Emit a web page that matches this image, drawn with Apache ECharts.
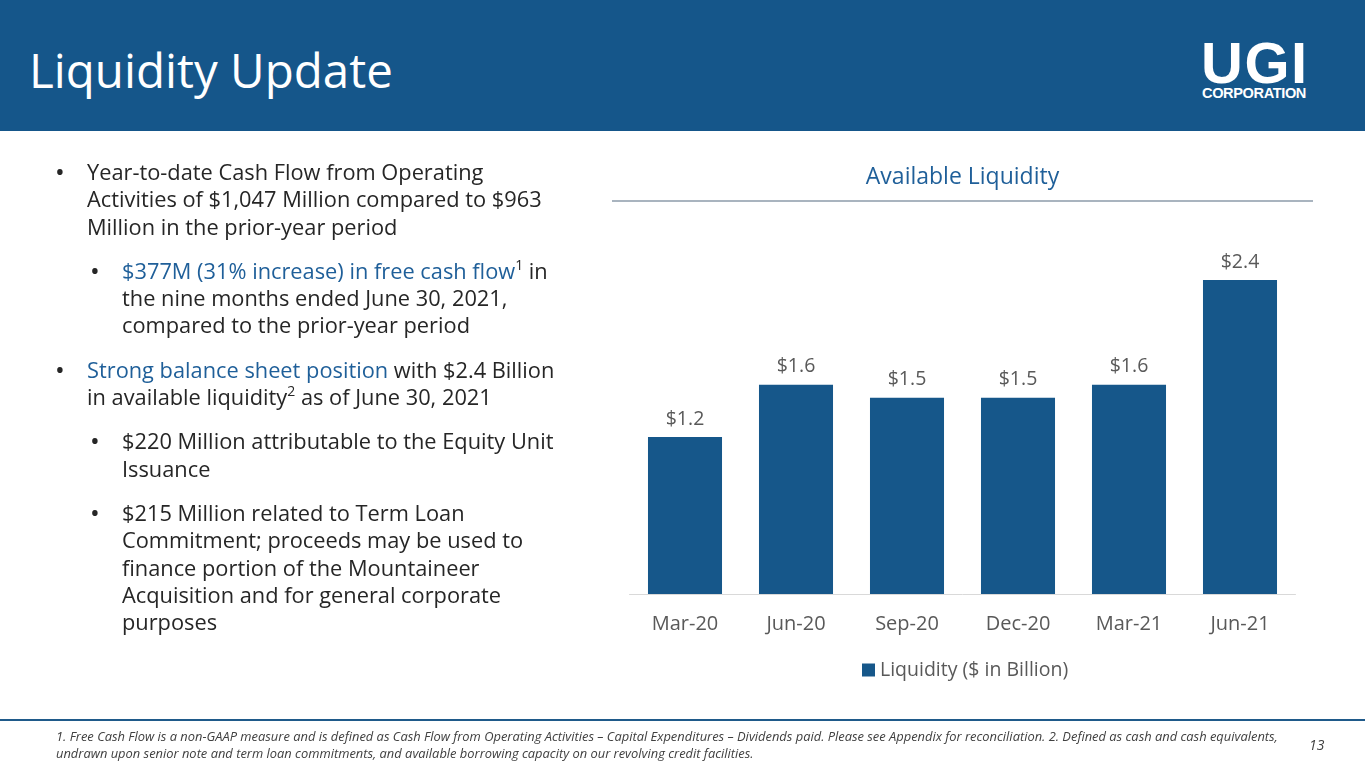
<!DOCTYPE html>
<html>
<head>
<meta charset="utf-8">
<script src="https://cdn.jsdelivr.net/npm/echarts@6/dist/echarts.min.js"></script>
<style>
  html, body { margin: 0; padding: 0; }
  body { width: 1365px; height: 768px; position: relative; overflow: hidden; background: #fff;
         font-family: "Open Sans", "Noto Sans", sans-serif; }
  #chart { position: absolute; left: 0; top: 0; width: 1365px; height: 768px; }
  .abs { position: absolute; }
  #header { left: 0; top: 0; width: 1365px; height: 131px; background: #15568a; }
  #pageTitle { left: 29px; top: 40px; color: #fff; font-size: 47.5px; line-height: 60px; }
  #logo1 { left: 1201px; top: 31px; color: #fff; font-family: "Liberation Sans", sans-serif; font-weight: bold;
           font-size: 58px; line-height: 64px; letter-spacing: 1.5px; }
  #logo2 { left: 1202px; top: 85px; color: #fff; font-family: "Liberation Sans", sans-serif; font-weight: bold;
           font-size: 14.6px; line-height: 16px; letter-spacing: -0.4px; }
  #text { left: 56px; top: 158px; width: 560px; color: #262626; font-size: 21.8px; line-height: 27.3px; }
  .b { position: relative; padding-left: 31px; }
  .b:before { content: "\2022"; position: absolute; left: -1px; font-size: 26px; }
  .sub { margin-left: 35px; }
  .gap { height: 17px; }
  .hl { color: #1f5f99; }
  sup { font-size: 14px; line-height: 0; vertical-align: 9px; }
  #chartTitle { left: 612px; top: 159px; width: 701px; text-align: center; color: #1f5f99; font-size: 23px; line-height: 32px; }
  #titleRule { left: 612px; top: 200px; width: 701px; height: 2px; background: #a9b4bf; }
  #footRule { left: 0; top: 719px; width: 1365px; height: 2px; background: #1f5a8a; }
  #foot { left: 56px; top: 728px; width: 1250px; color: #404040; font-style: italic; font-size: 12.9px; line-height: 17px; white-space: nowrap; }
  #pageNo { left: 1309px; top: 735px; color: #404040; font-style: italic; font-size: 14px; }
</style>
</head>
<body>
<div id="chart"></div>
<div id="header" class="abs"></div>
<div id="pageTitle" class="abs">Liquidity Update</div>
<div id="logo1" class="abs">UGI</div>
<div id="logo2" class="abs">CORPORATION</div>

<div id="text" class="abs">
  <div class="b">Year-to-date Cash Flow from Operating<br>Activities of $1,047 Million compared to $963<br>Million in the prior-year period</div>
  <div class="gap"></div>
  <div class="b sub"><span class="hl">$377M (31% increase) in free cash flow</span><sup>1</sup> in<br>the nine months ended June 30, 2021,<br>compared to the prior-year period</div>
  <div class="gap"></div>
  <div class="b"><span class="hl">Strong balance sheet position</span> with $2.4 Billion<br>in available liquidity<sup>2</sup> as of June 30, 2021</div>
  <div class="gap"></div>
  <div class="b sub">$220 Million attributable to the Equity Unit<br>Issuance</div>
  <div class="gap"></div>
  <div class="b sub">$215 Million related to Term Loan<br>Commitment; proceeds may be used to<br>finance portion of the Mountaineer<br>Acquisition and for general corporate<br>purposes</div>
</div>

<div id="chartTitle" class="abs">Available Liquidity</div>
<div id="titleRule" class="abs"></div>

<div id="footRule" class="abs"></div>
<div id="foot" class="abs">1. Free Cash Flow is a non-GAAP measure and is defined as Cash Flow from Operating Activities – Capital Expenditures – Dividends paid. Please see Appendix for reconciliation. 2. Defined as cash and cash equivalents,<br>undrawn upon senior note and term loan commitments, and available borrowing capacity on our revolving credit facilities.</div>
<div id="pageNo" class="abs">13</div>

<script>
// 数据
var categories = ['Mar-20', 'Jun-20', 'Sep-20', 'Dec-20', 'Mar-21', 'Jun-21'];
var liquidity = [1.2, 1.6, 1.5, 1.5, 1.6, 2.4];
var seriesName = 'Liquidity ($ in Billion)';

var myChart = echarts.init(document.getElementById('chart'));

var options = {
    animation: false,
    textStyle: { fontFamily: '"Open Sans", "Noto Sans", sans-serif' },
    grid: { left: 629.5, right: 69.5, top: 280, bottom: 174, containLabel: false },
    legend: {
        data: [seriesName],
        left: 857,
        top: 655,
        icon: 'rect',
        itemWidth: 13,
        itemHeight: 13,
        itemGap: 6,
        textStyle: { color: '#595959', fontSize: 19.5 }
    },
    xAxis: {
        type: 'category',
        data: categories,
        axisLine: { lineStyle: { color: '#d9d9d9', width: 1 } },
        axisTick: { show: false },
        axisLabel: { color: '#595959', fontSize: 20, margin: 20 }
    },
    yAxis: {
        type: 'value',
        min: 0,
        max: 2.4,
        show: false,
        splitLine: { show: false }
    },
    series: [{
        name: seriesName,
        type: 'bar',
        data: liquidity,
        barCategoryGap: '33.3%',
        itemStyle: { color: '#16578a' },
        label: {
            show: true,
            position: 'top',
            distance: 8,
            color: '#595959',
            fontSize: 19.5,
            formatter: function (p) { return '$' + p.value.toFixed(1); }
        }
    }]
};

myChart.setOption(options);
</script>
</body>
</html>
